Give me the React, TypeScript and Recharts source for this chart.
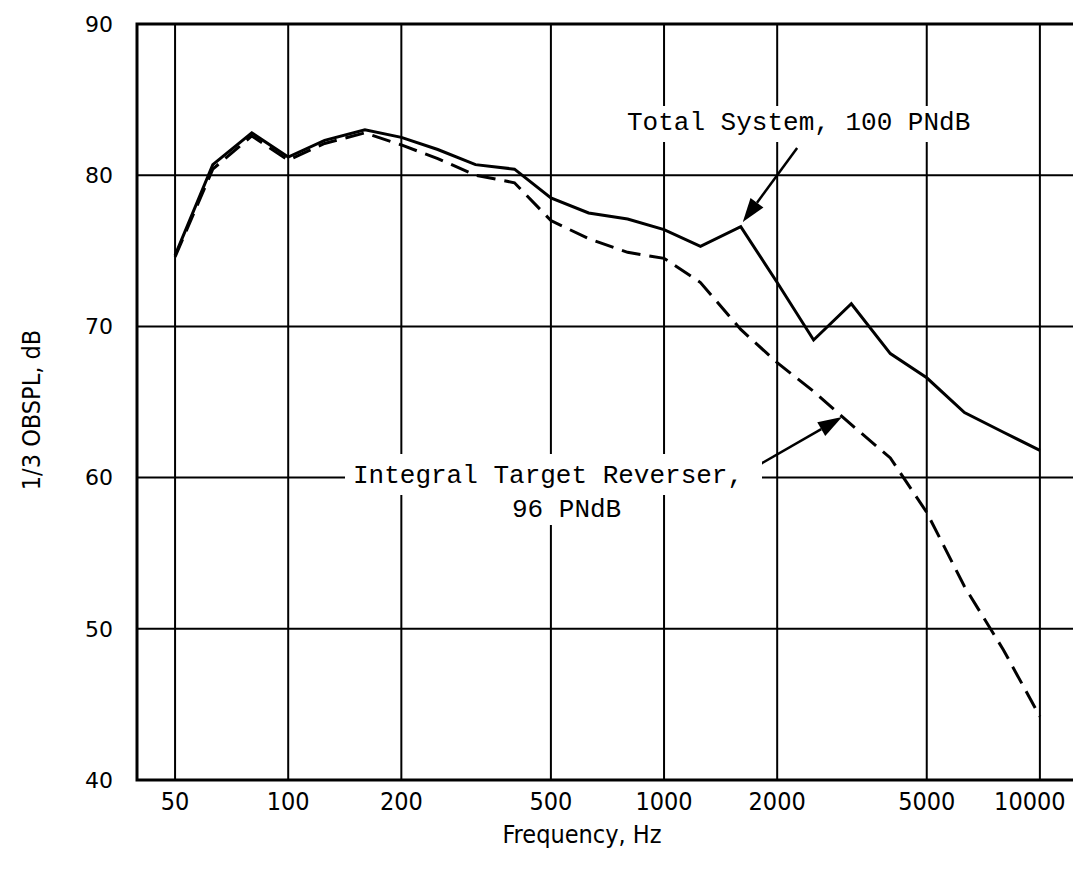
import React from "react";
import {
  CartesianGrid,
  Line,
  LineChart,
  ReferenceArea,
  ReferenceLine,
  XAxis,
  YAxis,
} from "recharts";

// 1/3 octave band centre frequencies, Hz
const bands = [
  50, 63, 80, 100, 125, 160, 200, 250, 315, 400, 500, 630, 800, 1000, 1250,
  1600, 2000, 2500, 3150, 4000, 5000, 6300, 8000, 10000,
];

// Total System, 100 PNdB
const totalSystem = [
  74.7, 80.7, 82.8, 81.2, 82.3, 83.0, 82.5, 81.7, 80.7, 80.4, 78.5, 77.5, 77.1,
  76.4, 75.3, 76.6, 72.9, 69.1, 71.5, 68.2, 66.6, 64.3, 63.0, 61.8,
];

// Integral Target Reverser, 96 PNdB
const integralReverser = [
  74.6, 80.4, 82.6, 81.0, 82.1, 82.8, 82.0, 81.1, 80.0, 79.5, 77.0, 75.8, 74.9,
  74.5, 72.9, 69.8, 67.6, 65.7, 63.5, 61.3, 57.7, 52.8, 48.6, 44.2,
];

const freqTicks = [50, 100, 200, 500, 1000, 2000, 5000, 10000];
const dbTicks = [40, 50, 60, 70, 80, 90];
const freqDomain = [39.6, 12630];

const data = bands.map((f, i) => ({
  f,
  total: totalSystem[i],
  reverser: integralReverser[i],
}));

const W = 1073;
const H = 864;
const mono = "'Liberation Mono', 'DejaVu Sans Mono', monospace";
const narrow =
  "'Liberation Sans Narrow', 'DejaVu Sans Condensed', 'Liberation Sans', sans-serif";

function Arrow(props: any) {
  const { x1, y1, x2, y2 } = props;
  const dx = x2 - x1;
  const dy = y2 - y1;
  const len = Math.sqrt(dx * dx + dy * dy);
  const ux = dx / len;
  const uy = dy / len;
  const headLen = 24;
  const headW = 8;
  const bx = x2 - ux * headLen;
  const by = y2 - uy * headLen;
  const pts = [
    `${x2},${y2}`,
    `${bx - uy * headW},${by + ux * headW}`,
    `${bx + uy * headW},${by - ux * headW}`,
  ].join(" ");
  return (
    <g>
      <line x1={x1} y1={y1} x2={bx} y2={by} stroke="#000" strokeWidth={2.5} />
      <polygon points={pts} fill="#000" />
    </g>
  );
}

// typed labels: the last one sits a little inside the frame
function FreqTick(props: any) {
  const { x, y, payload } = props;
  const shift = payload.value === 10000 ? -10 : 0;
  return (
    <text
      x={x + shift}
      y={y}
      dy="0.71em"
      textAnchor="middle"
      fontFamily={narrow}
      fontSize={25}
      fill="#000"
    >
      {payload.value}
    </text>
  );
}

export default function App() {
  return (
    <div style={{ position: "relative", width: W, height: H, background: "#fff" }}>
      <LineChart
        width={W}
        height={H}
        data={data}
        margin={{ top: 16, right: 3, bottom: 0, left: 0 }}
      >
        <CartesianGrid stroke="#000" strokeWidth={2} />
        <XAxis
          dataKey="f"
          type="number"
          scale="log"
          domain={freqDomain}
          allowDataOverflow
          ticks={freqTicks}
          interval={0}
          height={92}
          axisLine={false}
          tickLine={false}
          tickSize={0}
          tickMargin={12}
          tick={<FreqTick />}
        />
        <YAxis
          type="number"
          domain={[40, 90]}
          ticks={dbTicks}
          width={129}
          axisLine={false}
          tickLine={false}
          tickSize={0}
          tickMargin={24}
          tick={{ fill: "#000", fontSize: 22, fontFamily: "'DejaVu Sans', sans-serif" }}
        />
        <ReferenceArea
          x1={freqDomain[0]}
          x2={freqDomain[1]}
          y1={40}
          y2={90}
          fill="none"
          fillOpacity={0}
          stroke="#000"
          strokeWidth={3}
          ifOverflow="visible"
        />
        <Line
          dataKey="total"
          stroke="#000"
          strokeWidth={3}
          dot={false}
          isAnimationActive={false}
        />
        <Line
          dataKey="reverser"
          stroke="#000"
          strokeWidth={3}
          strokeDasharray="19 9"
          dot={false}
          isAnimationActive={false}
        />
        <ReferenceLine
          segment={[
            { x: 2260, y: 81.8 },
            { x: 1620, y: 76.9 },
          ]}
          ifOverflow="visible"
          shape={Arrow}
        />
        <ReferenceLine
          segment={[
            { x: 1694, y: 60.5 },
            { x: 2976, y: 64.0 },
          ]}
          ifOverflow="visible"
          shape={Arrow}
        />
      </LineChart>
      <svg
        width={W}
        height={H}
        style={{ position: "absolute", left: 0, top: 0, pointerEvents: "none" }}
      >
        <rect x={612} y={98} width={360} height={36} fill="#fff" />
        <text x={619} y={122} fontFamily={mono} fontSize={26} fill="#000">
          Total System, 100 PNdB
        </text>
        <rect x={337} y={446} width={417} height={41} fill="#fff" />
        <rect x={497} y={487} width={126} height={30} fill="#fff" />
        <text x={345} y={475} fontFamily={mono} fontSize={26} fill="#000">
          Integral Target Reverser,
        </text>
        <text x={504} y={509} fontFamily={mono} fontSize={26} fill="#000">
          96 PNdB
        </text>
        <text
          x={574}
          y={835}
          textAnchor="middle"
          fontFamily={narrow}
          fontSize={25}
          fill="#000"
        >
          Frequency, Hz
        </text>
        <text
          x={0}
          y={0}
          transform="translate(32 402) rotate(-90)"
          textAnchor="middle"
          fontFamily={narrow}
          fontSize={25}
          fill="#000"
        >
          1/3 OBSPL, dB
        </text>
      </svg>
    </div>
  );
}
